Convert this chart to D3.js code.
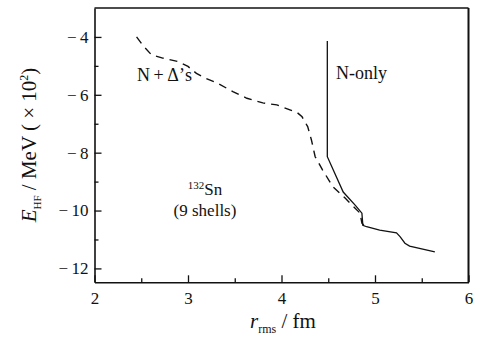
<!DOCTYPE html>
<html>
<head>
<meta charset="utf-8">
<script src="https://cdn.jsdelivr.net/npm/d3@7"></script>
<style>
  body { margin: 0; background: #fff; }
  svg text { font-family: "Liberation Serif", "DejaVu Serif", "Noto Serif", "Times New Roman", serif; fill: #111; }
</style>
</head>
<body>
<div id="chart"></div>
<script>
// N + Delta's curve (dashed), r_rms in fm, E_HF in 100 MeV
var deltaR = [2.45, 2.52, 2.61, 2.73, 2.89, 3.00, 3.09, 3.18, 3.31, 3.48, 3.63, 3.80, 3.95, 4.09, 4.17, 4.22, 4.28, 4.32, 4.36, 4.44, 4.55, 4.68, 4.84, 4.86, 4.90];
var deltaE = [-4.00, -4.30, -4.62, -4.73, -4.85, -5.02, -5.26, -5.42, -5.59, -5.89, -6.12, -6.28, -6.35, -6.52, -6.62, -6.76, -7.10, -7.56, -8.14, -8.60, -9.18, -9.57, -10.09, -10.44, -10.57];

// N-only curve (solid)
var nucR = [4.49, 4.49, 4.66, 4.79, 4.86, 4.87, 4.91, 5.05, 5.23, 5.27, 5.32, 5.37, 5.64];
var nucE = [-4.14, -8.14, -9.36, -9.82, -10.09, -10.51, -10.56, -10.68, -10.77, -10.91, -11.13, -11.23, -11.43];

var xTicks = [2, 3, 4, 5, 6];
var xMinor = [2.5, 3.5, 4.5, 5.5];
var yTicks = [-4, -6, -8, -10, -12];
var yMinor = [-5, -7, -9, -11];

var width = 487, height = 342;
var margin = {left: 94.5, right: 18.5, top: 8, bottom: 59.7};
var serif = "'Liberation Serif', 'DejaVu Serif', 'Noto Serif', 'Times New Roman', serif";

var svg = d3.select("#chart").append("svg")
  .attr("width", width)
  .attr("height", height);

var x = d3.scaleLinear().domain([2, 6]).range([margin.left, width - margin.right]);
var y = d3.scaleLinear().domain([-12.48, -3]).range([height - margin.bottom, margin.top]);

var deltaData = deltaR.map(function(r, i) { return [r, deltaE[i]]; });
var nucData = nucR.map(function(r, i) { return [r, nucE[i]]; });

var line = d3.line()
  .x(function(d) { return x(d[0]); })
  .y(function(d) { return y(d[1]); });

// axes, ticks pointing inward
svg.append("g")
  .attr("transform", "translate(0," + y.range()[0] + ")")
  .call(d3.axisBottom(x).tickValues(xTicks).tickSizeInner(-7).tickSizeOuter(0)
    .tickPadding(10).tickFormat(d3.format("d")));

svg.append("g")
  .attr("transform", "translate(0," + y.range()[0] + ")")
  .call(d3.axisBottom(x).tickValues(xMinor).tickSize(-4).tickFormat(""))
  .select(".domain").remove();

svg.append("g")
  .attr("transform", "translate(" + x.range()[0] + ",0)")
  .call(d3.axisLeft(y).tickValues(yTicks).tickSizeInner(-7).tickSizeOuter(0)
    .tickPadding(6).tickFormat(function(d) { return "\u2212\u2009" + Math.abs(d); }));

svg.append("g")
  .attr("transform", "translate(" + x.range()[0] + ",0)")
  .call(d3.axisLeft(y).tickValues(yMinor).tickSize(-4).tickFormat(""))
  .select(".domain").remove();

svg.selectAll("g").attr("font-family", serif);
svg.selectAll(".domain").attr("stroke", "#111").attr("stroke-width", 1.6);
svg.selectAll(".tick line").attr("stroke", "#111").attr("stroke-width", 1.3);
svg.selectAll(".tick text")
  .style("font-family", serif)
  .style("font-size", "17px")
  .attr("fill", "#111");

// top and right border
svg.append("line")
  .attr("x1", x(2)).attr("x2", x(6))
  .attr("y1", y(-3)).attr("y2", y(-3))
  .attr("stroke", "#111").attr("stroke-width", 1.6);
svg.append("line")
  .attr("x1", x(6)).attr("x2", x(6))
  .attr("y1", y(-3)).attr("y2", y(-12.48))
  .attr("stroke", "#111").attr("stroke-width", 2);

// curves
svg.append("path")
  .datum(deltaData)
  .attr("d", line)
  .attr("fill", "none")
  .attr("stroke", "#111")
  .attr("stroke-width", 1.4)
  .attr("stroke-dasharray", "8,6");

svg.append("path")
  .datum(nucData)
  .attr("d", line)
  .attr("fill", "none")
  .attr("stroke", "#111")
  .attr("stroke-width", 1.3);

// labels
svg.append("text")
  .attr("x", 137).attr("y", 81)
  .style("font-size", "18px")
  .text("N\u2009+\u2009\u0394\u2019s");

svg.append("text")
  .attr("x", 336).attr("y", 79)
  .style("font-size", "18px")
  .text("N-only");

var sn = svg.append("text")
  .attr("x", 205).attr("y", 195)
  .attr("text-anchor", "middle")
  .style("font-size", "17px");
sn.append("tspan").attr("dy", -6).style("font-size", "11px").text("132");
sn.append("tspan").attr("dy", 6).text("Sn");

svg.append("text")
  .attr("x", 205).attr("y", 216)
  .attr("text-anchor", "middle")
  .style("font-size", "17px")
  .text("(9 shells)");

// axis titles
var xt = svg.append("text")
  .attr("x", 283).attr("y", 328)
  .attr("text-anchor", "middle")
  .style("font-size", "21px");
xt.append("tspan").style("font-style", "italic").text("r");
xt.append("tspan").attr("dy", 5).style("font-size", "12px").text("rms");
xt.append("tspan").attr("dy", -5).text(" / fm");

var yt = svg.append("text")
  .attr("transform", "translate(36,145) rotate(-90)")
  .attr("text-anchor", "middle")
  .style("font-size", "21px");
yt.append("tspan").style("font-style", "italic").text("E");
yt.append("tspan").attr("dy", 5).style("font-size", "11px").text("HF");
yt.append("tspan").attr("dy", -5).text(" / MeV ( \u00d7 10");
yt.append("tspan").attr("dy", -8).style("font-size", "12px").text("2");
yt.append("tspan").attr("dy", 8).text(")");
</script>
</body>
</html>
